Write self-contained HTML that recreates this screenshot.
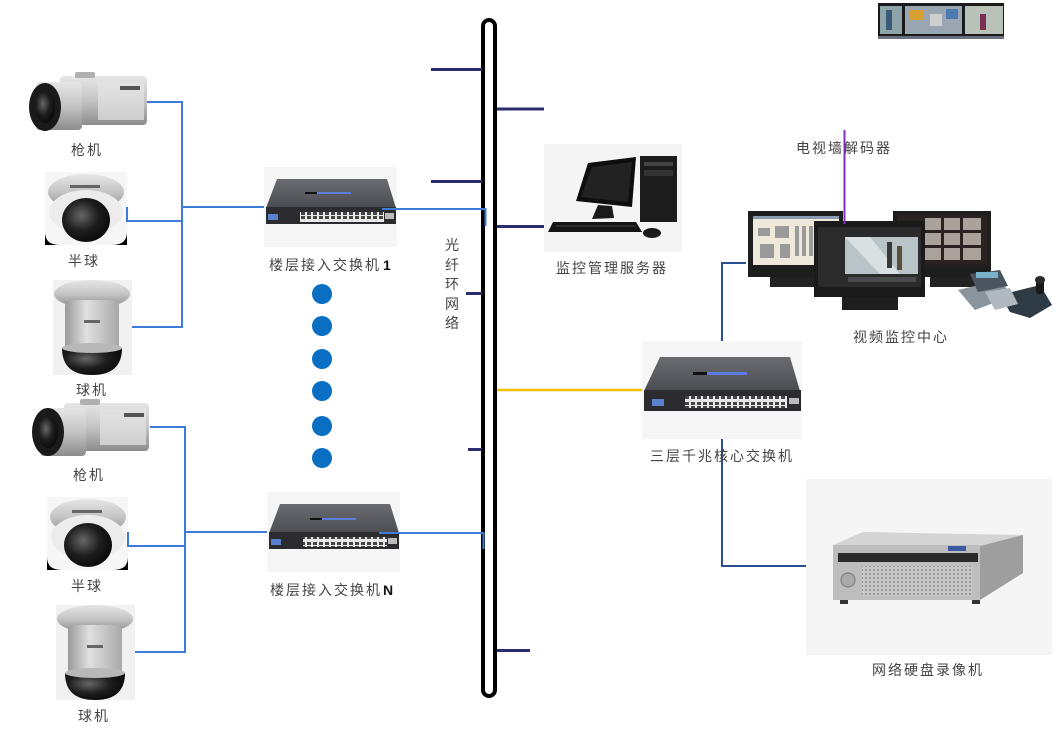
<!DOCTYPE html>
<html><head><meta charset="utf-8">
<style>
html,body{margin:0;padding:0;background:#fff;}
body{width:1056px;height:741px;overflow:hidden;}
svg{display:block;}
.lb{font-family:"Liberation Sans","Noto Sans CJK SC",sans-serif;font-size:14px;fill:#444;letter-spacing:2px;}
.bd{font-family:"Liberation Sans",sans-serif;font-size:14px;font-weight:bold;fill:#111;}
</style></head>
<body>
<svg width="1056" height="741" viewBox="0 0 1056 741" xmlns="http://www.w3.org/2000/svg">
<defs>
<linearGradient id="silv" x1="0" y1="0" x2="0" y2="1">
<stop offset="0" stop-color="#e6e6e6"/><stop offset="0.5" stop-color="#c4c4c4"/><stop offset="1" stop-color="#8c8c8c"/>
</linearGradient>
<linearGradient id="silvh" x1="0" y1="0" x2="1" y2="0">
<stop offset="0" stop-color="#9a9a9a"/><stop offset="0.4" stop-color="#e0e0e0"/><stop offset="1" stop-color="#a8a8a8"/>
</linearGradient>
<radialGradient id="blk" cx="0.4" cy="0.4" r="0.7">
<stop offset="0" stop-color="#666"/><stop offset="0.5" stop-color="#1e1e1e"/><stop offset="1" stop-color="#050505"/>
</radialGradient>
<linearGradient id="swtop" x1="0" y1="0" x2="0" y2="1">
<stop offset="0" stop-color="#6a6c72"/><stop offset="1" stop-color="#4a4c52"/>
</linearGradient>
<pattern id="ports" width="6" height="10" patternUnits="userSpaceOnUse">
<rect width="6" height="10" fill="#e8e8e8"/><rect x="1" y="2" width="4" height="3" fill="#444"/><rect x="1" y="6" width="4" height="3" fill="#444"/>
</pattern>
<pattern id="grill" width="4" height="4" patternUnits="userSpaceOnUse">
<rect width="4" height="4" fill="#c8c8c8"/><rect x="1" y="1" width="2" height="2" fill="#999"/>
</pattern>
</defs>

<!-- top-right thumbnail strip -->
<rect x="878" y="3" width="126" height="36" fill="#1a1a1a"/>
<rect x="880" y="6" width="22" height="28" fill="#8fa4a8"/>
<rect x="886" y="10" width="6" height="20" fill="#3b5a7a"/>
<rect x="905" y="6" width="57" height="28" fill="#9aa6b2"/>
<rect x="910" y="10" width="14" height="10" fill="#d8a030"/>
<rect x="930" y="14" width="12" height="12" fill="#cfcfcf"/>
<rect x="946" y="9" width="12" height="10" fill="#4a78b0"/>
<rect x="965" y="6" width="38" height="28" fill="#b8c2b8"/>
<rect x="980" y="14" width="6" height="16" fill="#7a3050"/>
<rect x="878" y="36" width="126" height="3" fill="#6a7080"/>

<!-- Backbone bus -->
<rect x="483" y="20" width="12" height="676" rx="6" ry="6" fill="#fff" stroke="#000" stroke-width="4"/>

<g stroke="#2b2d6e" stroke-width="3">
<line x1="431" y1="69.5" x2="482" y2="69.5"/>
<line x1="497" y1="109" x2="544" y2="109"/>
<line x1="431" y1="181.5" x2="482" y2="181.5"/>
<line x1="497" y1="226.5" x2="544" y2="226.5"/>
<line x1="466" y1="293.5" x2="482" y2="293.5"/>
<line x1="468" y1="449.5" x2="482" y2="449.5"/>
<line x1="497" y1="650.5" x2="530" y2="650.5"/>
</g>

<line x1="497" y1="390" x2="642" y2="390" stroke="#f5c000" stroke-width="2.5"/>

<!-- Cameras group 1 -->
<g>
<rect x="60" y="76" width="87" height="49" rx="4" fill="url(#silv)"/>
<rect x="75" y="72" width="20" height="6" rx="2" fill="#b0b0b0"/>
<rect x="98" y="82" width="46" height="38" fill="#e4e4e4" opacity="0.7"/>
<rect x="36" y="82" width="46" height="48" rx="4" fill="url(#silv)"/>
<ellipse cx="45" cy="107" rx="16" ry="24" fill="#1a1a1a"/>
<ellipse cx="45" cy="107" rx="10" ry="16" fill="url(#blk)"/>
<rect x="120" y="86" width="20" height="4" fill="#555"/>
</g>
<g>
<rect x="45" y="172" width="82" height="73" fill="#000"/>
<path d="M45 172 H127 V232 Q127 245 112 245 H60 Q45 245 45 232 Z" fill="#f6f6f6"/>
<ellipse cx="86" cy="192" rx="38" ry="18" fill="url(#silv)"/>
<ellipse cx="86" cy="212" rx="37" ry="22" fill="#ececec"/>
<ellipse cx="86" cy="220" rx="24" ry="22" fill="url(#blk)"/>
<rect x="70" y="185" width="30" height="3" fill="#666"/>
</g>
<g>
<rect x="53" y="280" width="79" height="95" fill="#f1f1f1"/>
<ellipse cx="92" cy="294" rx="38" ry="14" fill="url(#silv)"/>
<rect x="65" y="300" width="54" height="52" rx="6" fill="url(#silvh)"/>
<path d="M62 348 H122 Q122 375 92 375 Q62 375 62 348 Z" fill="url(#blk)"/>
<ellipse cx="92" cy="348" rx="30" ry="5" fill="#b8b8b8"/>
<rect x="84" y="320" width="16" height="3" fill="#666"/>
</g>

<g stroke="#3c7bd8" stroke-width="2" fill="none">
<polyline points="147,102 182,102 182,327 132,327"/>
<polyline points="127,207 127,221 182,221"/>
<line x1="182" y1="207" x2="264" y2="207"/>
</g>

<!-- switch 1 -->
<g>
<rect x="264" y="167" width="133" height="80" fill="#f6f6f6"/>
<polygon points="277,179 387,179 396,208 266,208" fill="url(#swtop)"/>
<rect x="305" y="192" width="12" height="2" fill="#111"/>
<rect x="317" y="192" width="34" height="2" fill="#5c7ee0"/>
<rect x="266" y="207" width="130" height="17" fill="#2c2c30"/>
<rect x="300" y="212" width="84" height="10" fill="url(#ports)"/>
<rect x="268" y="214" width="10" height="6" fill="#5a80d0"/>
<rect x="385" y="213" width="9" height="6" fill="#bbb"/>
</g>
<line x1="382" y1="209" x2="486" y2="209" stroke="#3c7bd8" stroke-width="2"/>
<line x1="485.5" y1="208" x2="485.5" y2="226" stroke="#3c7bd8" stroke-width="2"/>

<g fill="#0a6fc2">
<circle cx="322" cy="294" r="10"/>
<circle cx="322" cy="326" r="10"/>
<circle cx="322" cy="359" r="10"/>
<circle cx="322" cy="391" r="10"/>
<circle cx="322" cy="426" r="10"/>
<circle cx="322" cy="458" r="10"/>
</g>

<!-- Cameras group 2 -->
<g>
<rect x="64" y="403" width="85" height="48" rx="4" fill="url(#silv)"/>
<rect x="80" y="399" width="20" height="6" rx="2" fill="#b0b0b0"/>
<rect x="100" y="409" width="46" height="36" fill="#e4e4e4" opacity="0.7"/>
<rect x="40" y="408" width="46" height="48" rx="4" fill="url(#silv)"/>
<ellipse cx="48" cy="432" rx="16" ry="24" fill="#1a1a1a"/>
<ellipse cx="48" cy="432" rx="10" ry="16" fill="url(#blk)"/>
<rect x="124" y="413" width="20" height="4" fill="#555"/>
</g>
<g>
<rect x="47" y="497" width="81" height="73" fill="#000"/>
<path d="M47 497 H128 V557 Q128 570 113 570 H62 Q47 570 47 557 Z" fill="#f6f6f6"/>
<ellipse cx="88" cy="517" rx="38" ry="18" fill="url(#silv)"/>
<ellipse cx="88" cy="537" rx="37" ry="22" fill="#ececec"/>
<ellipse cx="88" cy="545" rx="24" ry="22" fill="url(#blk)"/>
<rect x="72" y="510" width="30" height="3" fill="#666"/>
</g>
<g>
<rect x="56" y="605" width="79" height="95" fill="#f1f1f1"/>
<ellipse cx="95" cy="619" rx="38" ry="14" fill="url(#silv)"/>
<rect x="68" y="625" width="54" height="52" rx="6" fill="url(#silvh)"/>
<path d="M65 673 H125 Q125 700 95 700 Q65 700 65 673 Z" fill="url(#blk)"/>
<ellipse cx="95" cy="673" rx="30" ry="5" fill="#b8b8b8"/>
<rect x="87" y="645" width="16" height="3" fill="#666"/>
</g>

<g stroke="#3c7bd8" stroke-width="2" fill="none">
<polyline points="150,427 185,427 185,652 135,652"/>
<polyline points="128,532 128,546 185,546"/>
<line x1="185" y1="532" x2="267" y2="532"/>
</g>

<!-- switch N -->
<g>
<rect x="267" y="492" width="133" height="80" fill="#f6f6f6"/>
<polygon points="280,504 390,504 399,533 269,533" fill="url(#swtop)"/>
<rect x="310" y="518" width="12" height="2" fill="#111"/>
<rect x="322" y="518" width="34" height="2" fill="#5c7ee0"/>
<rect x="269" y="532" width="130" height="17" fill="#2c2c30"/>
<rect x="303" y="537" width="84" height="10" fill="url(#ports)"/>
<rect x="271" y="539" width="10" height="6" fill="#5a80d0"/>
<rect x="388" y="538" width="9" height="6" fill="#bbb"/>
</g>
<line x1="379" y1="533" x2="484" y2="533" stroke="#3c7bd8" stroke-width="2"/>
<line x1="483.5" y1="532" x2="483.5" y2="549" stroke="#3c7bd8" stroke-width="2"/>

<!-- PC workstation -->
<g>
<rect x="544" y="144" width="138" height="108" fill="#f4f4f4"/>
<rect x="640" y="156" width="37" height="66" fill="#1c1c1c"/>
<rect x="644" y="162" width="29" height="4" fill="#444"/>
<rect x="644" y="170" width="29" height="6" fill="#333"/>
<polygon points="588,163 636,157 632,207 576,201" fill="#0e0e0e"/>
<polygon points="592,167 632,162 628,202 581,197" fill="#222"/>
<polygon points="598,205 612,206 614,218 592,219" fill="#1a1a1a"/>
<polygon points="553,222 636,222 642,232 548,232" fill="#141414"/>
<line x1="556" y1="226" x2="636" y2="226" stroke="#444" stroke-width="1"/>
<ellipse cx="652" cy="233" rx="9" ry="5" fill="#1a1a1a"/>
</g>

<!-- Core switch -->
<g>
<rect x="642" y="341" width="160" height="98" fill="#f6f6f6"/>
<polygon points="660,357 790,357 800,391 644,391" fill="url(#swtop)"/>
<rect x="693" y="372" width="14" height="3" fill="#111"/>
<rect x="707" y="372" width="40" height="3" fill="#5c7ee0"/>
<rect x="644" y="390" width="157" height="21" fill="#2c2c30"/>
<rect x="685" y="396" width="102" height="12" fill="url(#ports)"/>
<rect x="652" y="399" width="12" height="7" fill="#5a80d0"/>
<rect x="789" y="398" width="10" height="6" fill="#bbb"/>
</g>

<g stroke="#2a4f90" stroke-width="2" fill="none">
<polyline points="722,341 722,263 746,263"/>
<polyline points="722,439 722,566 806,566"/>
</g>

<!-- Monitors -->
<g>
<rect x="748" y="211" width="95" height="66" fill="#1e1e1e"/>
<rect x="753" y="216" width="86" height="49" fill="#efe9dc"/>
<rect x="753" y="216" width="86" height="3" fill="#8a9ab0"/>
<g fill="#9a9a9a">
<rect x="758" y="228" width="12" height="8"/><rect x="775" y="226" width="14" height="12"/>
<rect x="795" y="226" width="4" height="30"/><rect x="802" y="226" width="4" height="30"/><rect x="809" y="226" width="4" height="30"/>
<rect x="760" y="244" width="14" height="14"/><rect x="780" y="244" width="10" height="14"/>
</g>
<rect x="770" y="277" width="50" height="10" fill="#222"/>
<rect x="893" y="211" width="98" height="66" fill="#1e1e1e"/>
<rect x="897" y="215" width="90" height="50" fill="#2a2220"/>
<g fill="#a8a29a">
<rect x="925" y="218" width="16" height="12"/><rect x="944" y="218" width="16" height="12"/><rect x="963" y="218" width="18" height="12"/>
<rect x="925" y="233" width="16" height="12"/><rect x="944" y="233" width="16" height="12"/><rect x="963" y="233" width="18" height="12"/>
<rect x="925" y="248" width="16" height="12"/><rect x="944" y="248" width="16" height="12"/><rect x="963" y="248" width="18" height="12"/>
</g>
<rect x="930" y="277" width="50" height="10" fill="#222"/>
<rect x="814" y="221" width="111" height="76" fill="#1a1a1a"/>
<rect x="818" y="227" width="103" height="60" fill="#2b2b2b"/>
<rect x="845" y="237" width="73" height="37" fill="#b8c4c8"/>
<polygon points="845,237 870,237 900,274 880,274" fill="#d8e0e2"/>
<rect x="887" y="242" width="5" height="26" fill="#3a3a3a"/>
<rect x="897" y="246" width="5" height="24" fill="#5a5040"/>
<rect x="848" y="277" width="68" height="5" fill="#4a4a4a"/>
<rect x="842" y="297" width="56" height="13" fill="#1e1e1e"/>
<polygon points="958,290 1000,280 1012,296 975,310" fill="#8a949c"/>
<polygon points="970,274 1000,270 1008,286 978,292" fill="#4a5560"/>
<rect x="976" y="272" width="22" height="6" fill="#7ab0c8"/>
<polygon points="1000,295 1040,285 1052,305 1030,318 1010,312" fill="#2e3a44"/>
<rect x="1036" y="280" width="8" height="14" rx="3" fill="#1a1a1a"/>
<ellipse cx="1040" cy="280" rx="5" ry="4" fill="#2a2a2a"/>
<polygon points="985,292 1010,288 1018,304 995,310" fill="#b0b8c0"/>
</g>

<line x1="844.5" y1="130" x2="844.5" y2="224" stroke="#7b2fbf" stroke-width="2"/>

<!-- DVR -->
<g>
<rect x="806" y="479" width="246" height="176" fill="#f5f5f5"/>
<polygon points="833,545 863,532 1023,535 980,546" fill="#d4d4d4"/>
<polygon points="980,546 1023,535 1023,573 980,600" fill="#9e9e9e"/>
<rect x="833" y="545" width="147" height="55" fill="#bdbdbd"/>
<rect x="838" y="553" width="140" height="9" fill="#2a2a2a"/>
<rect x="862" y="566" width="110" height="30" fill="url(#grill)"/>
<circle cx="848" cy="580" r="7" fill="#aaa" stroke="#777"/>
<rect x="948" y="546" width="18" height="5" fill="#3a5aa0"/>
<rect x="840" y="600" width="8" height="4" fill="#333"/>
<rect x="972" y="600" width="8" height="4" fill="#333"/>
</g>

<!-- Labels -->
<text class="lb" x="71" y="155">枪机</text>
<text class="lb" x="68" y="266">半球</text>
<text class="lb" x="76" y="395">球机</text>
<text class="lb" x="73" y="480">枪机</text>
<text class="lb" x="71" y="591">半球</text>
<text class="lb" x="78" y="721">球机</text>

<text class="lb" x="269" y="270">楼层接入交换机</text><text class="bd" x="383" y="270">1</text>
<text class="lb" x="270" y="595">楼层接入交换机</text><text class="bd" x="383" y="595">N</text>

<text class="lb" x="445" y="250" style="letter-spacing:0">光</text>
<text class="lb" x="445" y="270" style="letter-spacing:0">纤</text>
<text class="lb" x="445" y="289" style="letter-spacing:0">环</text>
<text class="lb" x="445" y="309" style="letter-spacing:0">网</text>
<text class="lb" x="445" y="328" style="letter-spacing:0">络</text>

<text class="lb" x="556" y="273">监控管理服务器</text>
<text class="lb" x="796" y="153">电视墙解码器</text>
<text class="lb" x="853" y="342">视频监控中心</text>
<text class="lb" x="650" y="461">三层千兆核心交换机</text>
<text class="lb" x="872" y="675">网络硬盘录像机</text>
</svg>
</body></html>
